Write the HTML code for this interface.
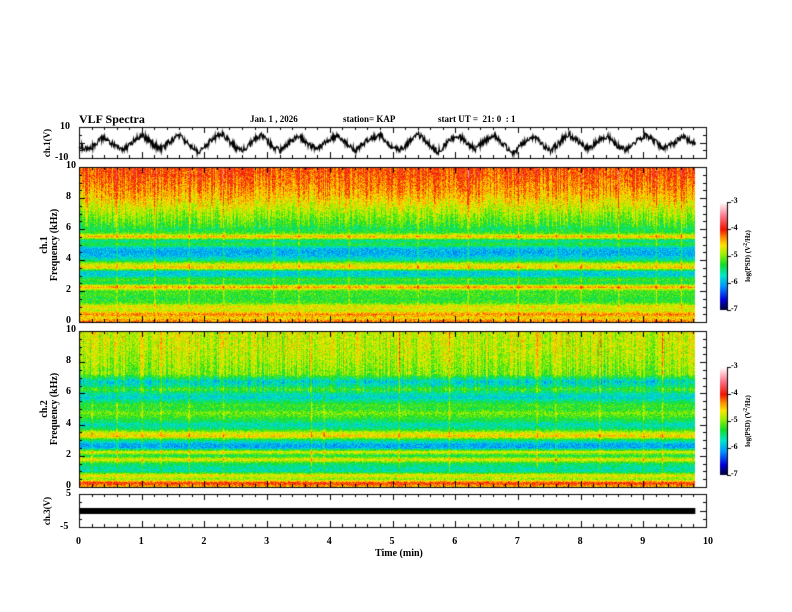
<!DOCTYPE html>
<html><head><meta charset="utf-8">
<style>
body{margin:0;background:#fff;}
#wrap{position:relative;width:792px;height:612px;overflow:hidden;background:#fff;font-family:"Liberation Serif",serif;font-weight:bold;color:#000;}
canvas{position:absolute;left:0;top:0;}
.t{position:absolute;font-size:10px;white-space:nowrap;}
</style></head>
<body>
<div id="wrap">
<canvas id="cv" width="792" height="612"></canvas>
<div class="t" style="left:79px;top:112px;font-size:12px">VLF Spectra</div>
<div class="t" style="left:250px;top:114px;font-size:9px">Jan. 1 , 2026</div>
<div class="t" style="left:343px;top:114px;font-size:9px">station= KAP</div>
<div class="t" style="left:438px;top:114px;font-size:9px">start UT = &nbsp;21: 0 &nbsp;: 1</div>
<div class="t" style="left:375px;top:548px;font-size:10px">Time (min)</div>
</div>
<script>
// ---- data ----
var freqGrid=[0,0.25,0.5,0.75,1,1.25,1.5,1.75,2,2.25,2.5,2.75,3,3.25,3.5,3.75,4,4.25,4.5,4.75,5,5.25,5.5,5.75,6,6.25,6.5,6.75,7,7.25,7.5,7.75,8,8.5,9,9.5,10];
var ch1Profile=[-4.2,-4.6,-4.3,-4.8,-4.6,-5.2,-5.3,-5.2,-5.2,-4.3,-5.4,-5.2,-5.8,-5.8,-4.5,-4.8,-5.6,-5.9,-6.0,-5.9,-5.3,-5.6,-4.4,-5.2,-5.4,-5.2,-5.1,-5.0,-4.9,-4.8,-4.7,-4.6,-4.5,-4.35,-4.25,-4.15,-4.1];
var ch2Profile=[-4.5,-4.0,-5.0,-4.6,-5.6,-5.6,-5.4,-4.6,-5.4,-4.6,-6.0,-6.0,-5.5,-4.5,-4.8,-5.5,-5.7,-5.4,-5.2,-5.0,-5.3,-5.2,-5.5,-5.8,-5.6,-5.2,-5.6,-5.8,-5.4,-5.0,-5.0,-4.95,-4.9,-4.85,-4.8,-4.8,-4.75];
var ch1Streaks=[0.6,1.2,1.75,2.3,3.1,3.5,4.3,5.4,6.2,7.0,7.6,8.0,8.6,9.2,9.6];
var ch2Streaks=[0.2,0.6,1.0,1.3,1.75,2.3,3.7,3.9,5.1,5.9,7.3,7.6,8.3,9.0,9.3];
var ch1Wave=[-2,-5,-4,1,4,0,-3,-6,-2,3,6,2,-2,-5,-1,3,5,1,-3,-8,-4,2,5,6,0,-4,-6,-2,3,6,1,-4,-6,-2,2,5,0,-3,-5,0,3,5,2,-3,-6,-2,2,4,5,0,-4,-6,-2,3,6,2,-3,-7,-3,2,5,3,-2,-5,-1,3,6,1,-4,-8,-3,1,4,2,-3,-6,-2,3,6,2,-2,-5,-1,3,5,0,-4,-6,-2,2,5,3,-1,-4,-2,1,4,2,-1];
var tEnd=9.83;
var xTicks=[0,1,2,3,4,5,6,7,8,9,10];
var fTicks=[0,2,4,6,8,10];
var cbTicks=[-3,-4,-5,-6,-7];
// ---- axes ----
var X0=79,X1=706;
function xs(t){return X0+(X1-X0)*t/10;}
var P1={top:167,bot:322}, P2={top:331,bot:487}, TS={top:127,bot:158}, C3={top:494,bot:527};
function fy(P,f){return P.bot-(P.bot-P.top)*f/10;}
var cv=document.getElementById('cv'),ctx=cv.getContext('2d');
function cmap(v){
 var s=[[-7,0,0,40],[-6.6,0,0,220],[-6.1,0,150,255],[-5.7,0,230,200],[-5.3,20,220,40],[-4.9,160,240,0],[-4.6,250,230,0],[-4.3,255,140,0],[-4.0,240,20,0],[-3.5,250,120,140],[-3,255,255,255]];
 if(v<=s[0][0])return s[0].slice(1);
 for(var i=1;i<s.length;i++){if(v<=s[i][0]){var a=s[i-1],b=s[i],k=(v-a[0])/(b[0]-a[0]);return [a[1]+k*(b[1]-a[1]),a[2]+k*(b[2]-a[2]),a[3]+k*(b[3]-a[3])];}}
 return s[s.length-1].slice(1);
}
function hash(i,j){var h=(i*374761393+j*668265263)|0;h=(h^(h>>>13))*1274126177|0;return ((h^(h>>>16))>>>0)/4294967295;}
function prof(arr,f){for(var i=1;i<freqGrid.length;i++){if(f<=freqGrid[i]){var k=(f-freqGrid[i-1])/(freqGrid[i]-freqGrid[i-1]);return arr[i-1]+k*(arr[i]-arr[i-1]);}}return arr[arr.length-1];}
function drawSpec(P,profile,streaks,seed){
 var x0=Math.round(xs(0)),x1=Math.round(xs(tEnd)),h=P.bot-P.top;
 var img=ctx.createImageData(x1-x0,h);
 for(var py=0;py<h;py++){var f=10*(1-(py+0.5)/h);var base=prof(profile,f);
  for(var px=0;px<x1-x0;px++){var t=px/(xs(1)-xs(0));var v=base+(hash(px+seed,py)-0.5)*0.55;
   for(var s=0;s<streaks.length;s++){var d=Math.abs(t-streaks[s])*(xs(1)-xs(0));if(d<1.2)v+=0.45*(1-d/1.2)*(f>1?1:0.3);}
   if(f>6)v+=(hash(px*7+seed,3)-0.5)*0.5;
   var c=cmap(v),o=(py*(x1-x0)+px)*4;img.data[o]=c[0];img.data[o+1]=c[1];img.data[o+2]=c[2];img.data[o+3]=255;}}
 ctx.putImageData(img,x0,P.top);
}
drawSpec(P1,ch1Profile,ch1Streaks,11);
drawSpec(P2,ch2Profile,ch2Streaks,97);
// time series ch1 (with texture jitter)
ctx.strokeStyle='#000';ctx.lineWidth=1.2;ctx.beginPath();
var tsMid=(TS.top+TS.bot)/2,tsScale=(TS.bot-TS.top)/20;
var n=ch1Wave.length,steps=1200;
for(var k=0;k<=steps;k++){var t=tEnd*k/steps;var u=t/tEnd*(n-1),i=Math.floor(u),fr=u-i;var v=ch1Wave[i]+(i+1<n?(ch1Wave[i+1]-ch1Wave[i])*fr:0);
 v+=(hash(k,5)-0.5)*4.5;
 var y=Math.max(TS.top+1,Math.min(TS.bot-1,tsMid-v*tsScale*0.85));var x=xs(t);if(k==0)ctx.moveTo(x,y);else ctx.lineTo(x,y);}
ctx.stroke();
// ch3 black bar
ctx.fillStyle='#000';ctx.fillRect(xs(0),508,xs(tEnd)-xs(0),6);
// frames and ticks
ctx.lineWidth=1;
function frame(P){ctx.strokeStyle='#000';ctx.lineWidth=1;ctx.strokeRect(X0+0.5,P.top+0.5,X1-X0,P.bot-P.top);
 for(var t=0;t<=10.001;t+=0.2){var x=Math.round(xs(t))+0.5;var L=(Math.abs(t-Math.round(t))<0.01)?6:3;
  ctx.beginPath();ctx.moveTo(x,P.top);ctx.lineTo(x,P.top+L);ctx.moveTo(x,P.bot);ctx.lineTo(x,P.bot-L);ctx.stroke();}}
[TS,P1,P2,C3].forEach(frame);
function yticks(P,n,major){for(var i=0;i<=n;i++){var y=Math.round(P.bot-(P.bot-P.top)*i/n)+0.5;var L=(i%major==0)?6:3;
 ctx.beginPath();ctx.moveTo(X0,y);ctx.lineTo(X0+L,y);ctx.moveTo(X1,y);ctx.lineTo(X1-L,y);ctx.stroke();}}
yticks(P1,20,4);yticks(P2,20,4);yticks(TS,4,2);yticks(C3,4,2);
// colorbars
function cbar(top,bot){var x=720,w=7;for(var y=top;y<bot;y++){var v=-3-4*(y-top)/(bot-top);var c=cmap(v);ctx.fillStyle='rgb('+c.map(Math.round).join(',')+')';ctx.fillRect(x,y,w,1);}
 ctx.strokeStyle='#000';ctx.beginPath();ctx.moveTo(x+w+0.5,top);ctx.lineTo(x+w+0.5,bot);ctx.stroke();
 cbTicks.forEach(function(v){var y=Math.round(top+(bot-top)*(-3-v)/4)+0.5;ctx.beginPath();ctx.moveTo(x+w,y);ctx.lineTo(x+w+4,y);ctx.stroke();});}
cbar(202,310);cbar(367,475);
var W=document.getElementById('wrap');
function lab(txt,x,y,name,extra){var d=document.createElement('div');d.className='t';d.textContent=txt;d.style.left=x+'px';d.style.top=y+'px';if(extra)d.style.cssText+=extra;


W.appendChild(d);return d;}
xTicks.forEach(function(t){lab(String(t),xs(t)-3,536,'x-tick-label');});
fTicks.forEach(function(f){lab(String(f),66,fy(P1,f)-7,'ch1-freq-tick');lab(String(f),66,fy(P2,f)-7,'ch2-freq-tick');});
lab('10',60,121,'ch1-v-tick');lab('-10',55,152,'ch1-v-tick');
lab('5',66,488,'ch3-v-tick');lab('-5',60,521,'ch3-v-tick');
cbTicks.forEach(function(v){lab(String(v),731,202+(310-202)*(-3-v)/4-6,'colorbar-tick',"font-size:8px");lab(String(v),731,367+(475-367)*(-3-v)/4-6,'colorbar-tick',"font-size:8px");});
function rot(txt,cx,cy,name,fs){var d=lab(txt,0,0,name,"font-size:"+fs+"px;text-align:center;line-height:10px;");d.innerHTML=txt;d.style.left=cx+'px';d.style.top=cy+'px';d.style.transform='translate(-50%,-50%) rotate(-90deg)';}
rot('ch.1(V)',47,143,'ch1-y-title',9);
rot('ch.1<br>Frequency (kHz)',50,245,'ch1-y-title',10);
rot('ch.2<br>Frequency (kHz)',50,409,'ch2-y-title',10);
rot('ch.3(V)',47,511,'ch3-y-title',9);
rot('log(PSD) (V<sup>2</sup>/Hz)',747,256,'colorbar-title',7);
rot('log(PSD) (V<sup>2</sup>/Hz)',747,421,'colorbar-title',7);
</script>
</body></html>
